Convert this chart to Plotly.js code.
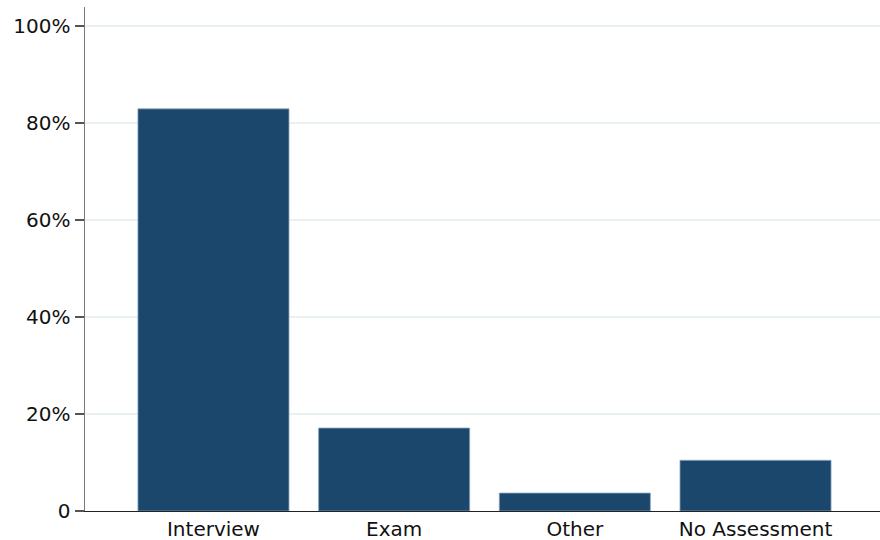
<!DOCTYPE html>
<html><head><meta charset="utf-8">
<script src="https://cdn.plot.ly/plotly-3.0.1.min.js"></script>
<style>html,body{margin:0;padding:0;background:#fff}#chart{width:880px;height:540px}</style>
</head><body><div id="chart"></div>
<script>
const categories = ["Interview", "Exam", "Other", "No Assessment"];
const shares = [82.9, 17.1, 3.7, 10.45];
const yTickVals = [0, 20, 40, 60, 80, 100];
const yTickText = ["0", "20%", "40%", "60%", "80%", "100%"];

const trace = {
  type: "bar", x: categories, y: shares, width: 0.836,
  marker: {color: "#1c476c", line: {color: "#8aa3bb", width: 0.8}},
  hoverinfo: "skip"
};
const layout = {
  width: 880, height: 540,
  margin: {l: 85, r: 0, t: 7, b: 29},
  paper_bgcolor: "#fff", plot_bgcolor: "#fff",
  showlegend: false,
  font: {family: "DejaVu Sans, sans-serif", size: 20, color: "#111"},
  xaxis: {
    type: "category", range: [-0.711, 3.689], showgrid: false, zeroline: false,
    showline: true, linecolor: "#222", linewidth: 1.2, ticks: "", automargin: false,
    tickfont: {size: 20}
  },
  yaxis: {
    range: [0, 103.9], tickvals: yTickVals, ticktext: yTickText,
    showgrid: true, gridcolor: "#e8f0f2", gridwidth: 2, zeroline: false,
    showline: true, linecolor: "#777", linewidth: 1.5,
    ticks: "outside", ticklen: 9, tickcolor: "#555", tickwidth: 1.2,
    automargin: false, tickfont: {size: 20}
  },
  bargap: 0.16
};
Plotly.newPlot("chart", [trace], layout, {staticPlot: true});
</script></body></html>
